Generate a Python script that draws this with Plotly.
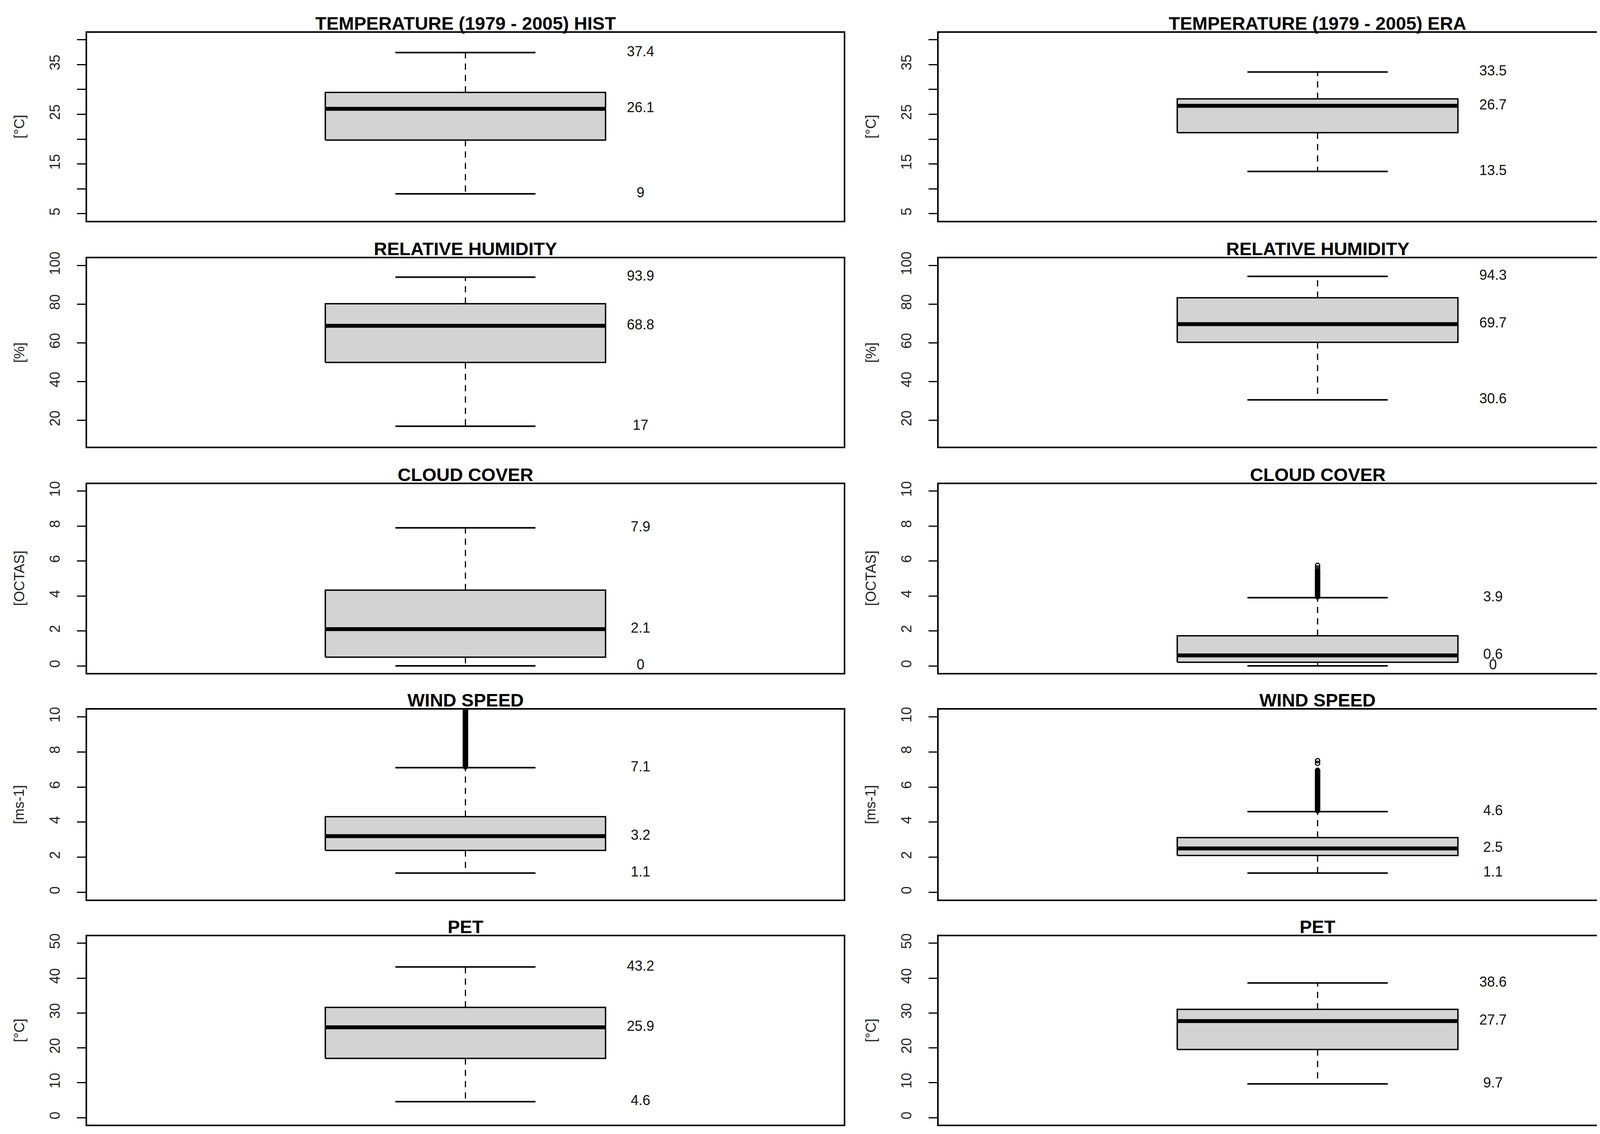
import plotly.graph_objects as go

# target canvas (reference pixels); the page body adds an 8 px margin
W_REF, H_REF = 4364, 2902
OFF = 8
W, H = W_REF - 2 * OFF, H_REF - 2 * OFF

# ---------------- data ----------------
titles_hist = ["TEMPERATURE (1979 - 2005) HIST", "RELATIVE HUMIDITY", "CLOUD COVER", "WIND SPEED", "PET"]
titles_era = ["TEMPERATURE (1979 - 2005) ERA", "RELATIVE HUMIDITY", "CLOUD COVER", "WIND SPEED", "PET"]
units = ["[°C]", "[%]", "[OCTAS]", "[ms-1]", "[°C]"]

hist_lower = [9.0, 17.0, 0.0, 1.1, 4.6]
hist_q1 = [19.8, 49.9, 0.5, 2.39, 17.0]
hist_median = [26.1, 68.8, 2.1, 3.2, 25.9]
hist_q3 = [29.4, 80.2, 4.33, 4.31, 31.6]
hist_upper = [37.4, 93.9, 7.9, 7.1, 43.2]

era_lower = [13.5, 30.6, 0.0, 1.1, 9.7]
era_q1 = [21.3, 60.3, 0.21, 2.1, 19.55]
era_median = [26.7, 69.7, 0.6, 2.5, 27.7]
era_q3 = [28.1, 83.3, 1.72, 3.12, 31.05]
era_upper = [33.5, 94.3, 3.9, 4.6, 38.6]

wind_hist_outliers = [7.15, 7.2, 7.25, 7.3, 7.35, 7.4, 7.45, 7.5, 7.55, 7.6, 7.65, 7.7, 7.75, 7.8,
                      7.85, 7.9, 7.95, 8.0, 8.05, 8.1, 8.15, 8.2, 8.25, 8.3, 8.35, 8.4, 8.45, 8.5,
                      8.55, 8.6, 8.65, 8.7, 8.75, 8.8, 8.85, 8.9, 8.95, 9.0, 9.05, 9.1, 9.15, 9.2,
                      9.25, 9.3, 9.35, 9.4, 9.45, 9.5, 9.55, 9.6, 9.65, 9.7, 9.75, 9.8, 9.85, 9.9,
                      9.95, 10.0, 10.05, 10.1, 10.15, 10.2, 10.25, 10.3, 10.35, 10.4, 10.5, 10.6]
cloud_era_outliers = [3.95, 4.0, 4.05, 4.1, 4.15, 4.2, 4.25, 4.3, 4.35, 4.4, 4.45, 4.5, 4.55, 4.6,
                      4.65, 4.7, 4.75, 4.8, 4.85, 4.9, 4.95, 5.0, 5.05, 5.1, 5.15, 5.2, 5.25, 5.3,
                      5.35, 5.4, 5.45, 5.6, 5.75]
wind_era_outliers = [4.65, 4.7, 4.75, 4.8, 4.85, 4.9, 4.95, 5.0, 5.05, 5.1, 5.15, 5.2, 5.25, 5.3,
                     5.35, 5.4, 5.45, 5.5, 5.55, 5.6, 5.65, 5.7, 5.75, 5.8, 5.85, 5.9, 5.95, 6.0,
                     6.05, 6.1, 6.15, 6.2, 6.25, 6.3, 6.35, 6.4, 6.45, 6.5, 6.55, 6.6, 6.65, 6.7,
                     6.75, 6.8, 6.85, 6.9, 6.95, 7.35, 7.5]

hist_outliers = [[], [], [], wind_hist_outliers, []]
era_outliers = [[], [], cloud_era_outliers, wind_era_outliers, []]

y_limits = [(5, 40), (10, 100), (0, 10), (0, 10), (0, 50)]
tick_values = [[5, 10, 15, 20, 25, 30, 35, 40], [20, 40, 60, 80, 100],
               [0, 2, 4, 6, 8, 10], [0, 2, 4, 6, 8, 10], [0, 10, 20, 30, 40, 50]]
tick_labels = [["5", "", "15", "", "25", "", "35", ""], ["20", "40", "60", "80", "100"],
               ["0", "2", "4", "6", "8", "10"], ["0", "2", "4", "6", "8", "10"],
               ["0", "10", "20", "30", "40", "50"]]

# ---------------- layout constants ----------------
FONT = "Liberation Sans, Arial, Helvetica, sans-serif"
col_px = [(223, 2160), (2403, 4343)]
row_px = [(67, 551), (648, 1133), (1229, 1715), (1810, 2298), (2393, 2878)]
CENTER, BOX_HW, STAPLE_HW, LABEL_X = 1.0, 0.2, 0.1, 1.25
X_RANGE = [0.46, 1.54]
LW = 3.5


def px_x(v):
    return (v - OFF) / W


def px_y(v):
    return 1 - (v - OFF) / H


def fmt(v):
    return f"{v:g}"


fig = go.Figure()
annotations = []
layout_axes = {}

for r in range(5):
    for c in range(2):
        idx = r * 2 + c + 1
        xa = "x" if idx == 1 else f"x{idx}"
        ya = "y" if idx == 1 else f"y{idx}"
        if c == 0:
            lo, q1, md, q3, hi = hist_lower[r], hist_q1[r], hist_median[r], hist_q3[r], hist_upper[r]
            outs, title = hist_outliers[r], titles_hist[r]
        else:
            lo, q1, md, q3, hi = era_lower[r], era_q1[r], era_median[r], era_q3[r], era_upper[r]
            outs, title = era_outliers[r], titles_era[r]

        # whiskers (dashed)
        fig.add_trace(go.Scatter(
            x=[CENTER, CENTER, None, CENTER, CENTER], y=[q3, hi, None, q1, lo],
            mode="lines", line=dict(color="black", width=3, dash="16px,13px"),
            xaxis=xa, yaxis=ya, showlegend=False, hoverinfo="skip"))
        # staples
        fig.add_trace(go.Scatter(
            x=[CENTER - STAPLE_HW, CENTER + STAPLE_HW, None, CENTER - STAPLE_HW, CENTER + STAPLE_HW],
            y=[hi, hi, None, lo, lo],
            mode="lines", line=dict(color="black", width=4),
            xaxis=xa, yaxis=ya, showlegend=False, hoverinfo="skip"))
        # box
        fig.add_trace(go.Scatter(
            x=[CENTER - BOX_HW, CENTER + BOX_HW, CENTER + BOX_HW, CENTER - BOX_HW, CENTER - BOX_HW],
            y=[q1, q1, q3, q3, q1],
            mode="lines", fill="toself", fillcolor="#D3D3D3",
            line=dict(color="black", width=LW),
            xaxis=xa, yaxis=ya, showlegend=False, hoverinfo="skip"))
        # median
        fig.add_trace(go.Scatter(
            x=[CENTER - BOX_HW, CENTER + BOX_HW], y=[md, md],
            mode="lines", line=dict(color="black", width=10),
            xaxis=xa, yaxis=ya, showlegend=False, hoverinfo="skip"))
        # outliers
        if outs:
            fig.add_trace(go.Scatter(
                x=[CENTER] * len(outs), y=outs, mode="markers",
                marker=dict(symbol="circle-open", size=11, color="black",
                            line=dict(color="black", width=3)),
                xaxis=xa, yaxis=ya, showlegend=False, hoverinfo="skip"))
        # value labels
        fig.add_trace(go.Scatter(
            x=[LABEL_X] * 3, y=[hi, md, lo], text=[fmt(hi), fmt(md), fmt(lo)],
            mode="text", textposition="middle center", cliponaxis=False,
            textfont=dict(family=FONT, size=36, color="#111111"),
            xaxis=xa, yaxis=ya, showlegend=False, hoverinfo="skip"))

        x0, x1 = col_px[c]
        top, bot = row_px[r]
        xdom = [px_x(x0), px_x(x1)]
        ydom = [px_y(bot), px_y(top)]
        ylo, yhi = y_limits[r]
        pad = 0.04 * (yhi - ylo)

        layout_axes["xaxis" if idx == 1 else f"xaxis{idx}"] = dict(
            domain=xdom, anchor=ya, range=X_RANGE, showticklabels=False, ticks="",
            showline=True, mirror=True, linecolor="black", linewidth=LW,
            showgrid=False, zeroline=False, fixedrange=True)
        layout_axes["yaxis" if idx == 1 else f"yaxis{idx}"] = dict(
            domain=ydom, anchor=xa, range=[ylo - pad, yhi + pad],
            tickmode="array", tickvals=tick_values[r], ticktext=tick_labels[r],
            ticks="outside", ticklen=22, tickwidth=3, tickcolor="black",
            tickangle=-90, ticklabelstandoff=30,
            tickfont=dict(family=FONT, size=36, color="#222222"),
            showline=True, mirror=True, linecolor="black", linewidth=LW,
            showgrid=False, zeroline=False, fixedrange=True)

        # panel title
        annotations.append(dict(
            text=f"<b>{title}</b>", x=(xdom[0] + xdom[1]) / 2, y=ydom[1],
            xref="paper", yref="paper", xanchor="center", yanchor="bottom",
            yshift=-4, showarrow=False,
            font=dict(family=FONT, size=47, color="black")))
        # y-axis unit label
        annotations.append(dict(
            text=units[r], x=px_x(x0 - 174), y=(ydom[0] + ydom[1]) / 2,
            xref="paper", yref="paper", xanchor="center", yanchor="middle",
            textangle=-90, showarrow=False,
            font=dict(family=FONT, size=36, color="#222222")))

fig.update_layout(
    width=W, height=H,
    margin=dict(l=0, r=0, t=0, b=0),
    paper_bgcolor="white", plot_bgcolor="white",
    annotations=annotations,
    showlegend=False,
    **layout_axes)

fig.write_html("out.html")
